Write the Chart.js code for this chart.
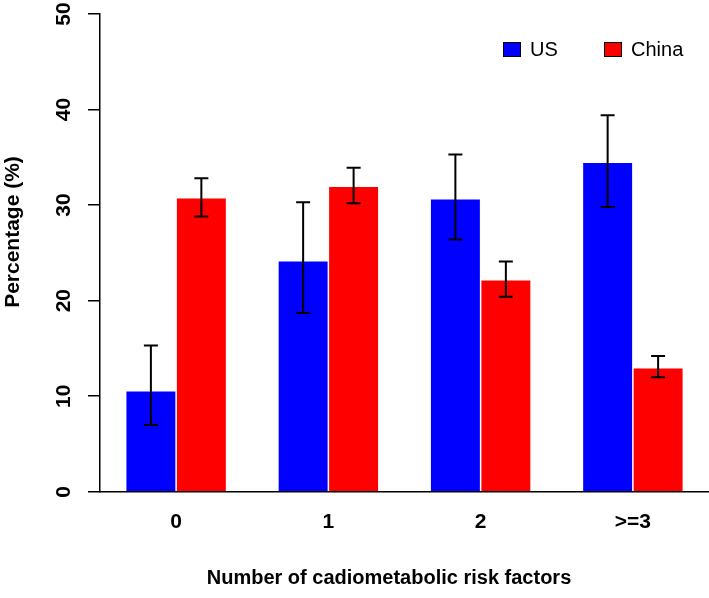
<!DOCTYPE html>
<html>
<head>
<meta charset="utf-8">
<script src="https://cdn.jsdelivr.net/npm/chart.js@4"></script>
<style>
    body { margin: 0; background: #ffffff; }
    #wrap { width: 709px; height: 598px; }
</style>
</head>
<body>
<div id="wrap"><canvas id="myChart" width="709" height="598"></canvas></div>
<script>
// Chart data
const categories = ['0', '1', '2', '>=3'];
const usValues = [10.5, 24.1, 30.6, 34.4];
const usLower = [7.0, 18.7, 26.4, 29.8];
const usUpper = [15.3, 30.3, 35.3, 39.4];
const chinaValues = [30.7, 31.9, 22.1, 12.9];
const chinaLower = [28.8, 30.2, 20.4, 12.0];
const chinaUpper = [32.8, 33.9, 24.1, 14.2];
const yTicks = [0, 10, 20, 30, 40, 50];

const xTitle = 'Number of cadiometabolic risk factors';
const yTitle = 'Percentage (%)';

Chart.defaults.font.family = '"Liberation Sans", Arial, sans-serif';
Chart.defaults.color = '#000000';

// Draws error bars, rotated y tick labels, axis titles and the legend
const extrasPlugin = {
    id: 'extras',
    afterDatasetsDraw(chart) {
        const ctx = chart.ctx;
        const yScale = chart.scales.y;
        const bounds = [[usLower, usUpper], [chinaLower, chinaUpper]];

        ctx.save();
        ctx.strokeStyle = '#000000';
        ctx.lineWidth = 2;
        chart.data.datasets.forEach((ds, di) => {
            const meta = chart.getDatasetMeta(di);
            meta.data.forEach((bar, i) => {
                const top = yScale.getPixelForValue(bounds[di][1][i]);
                const bottom = yScale.getPixelForValue(bounds[di][0][i]);
                ctx.beginPath();
                ctx.moveTo(bar.x, top);
                ctx.lineTo(bar.x, bottom);
                ctx.moveTo(bar.x - 7, top);
                ctx.lineTo(bar.x + 7, top);
                ctx.moveTo(bar.x - 7, bottom);
                ctx.lineTo(bar.x + 7, bottom);
                ctx.stroke();
            });
        });
        ctx.restore();
    },
    afterDraw(chart) {
        const ctx = chart.ctx;
        const yScale = chart.scales.y;

        ctx.save();
        ctx.fillStyle = '#000000';

        // y tick labels, rotated like base R
        ctx.font = 'bold 21px "Liberation Sans", Arial, sans-serif';
        ctx.textAlign = 'center';
        ctx.textBaseline = 'middle';
        yTicks.forEach((v) => {
            const y = yScale.getPixelForValue(v);
            ctx.save();
            ctx.translate(64, y);
            ctx.rotate(-Math.PI / 2);
            ctx.fillText(String(v), 0, 0);
            ctx.restore();
        });

        // y title
        ctx.save();
        ctx.translate(13, 232);
        ctx.rotate(-Math.PI / 2);
        ctx.font = 'bold 21px "Liberation Sans", Arial, sans-serif';
        ctx.fillText(yTitle, 0, 0);
        ctx.restore();

        // x title
        ctx.font = 'bold 20px "Liberation Sans", Arial, sans-serif';
        ctx.fillText(xTitle, 389, 578);

        // legend
        ctx.font = '20px "Liberation Sans", Arial, sans-serif';
        ctx.textAlign = 'left';
        const legendX = [503, 604];
        chart.data.datasets.forEach((ds, di) => {
            const x = legendX[di];
            ctx.fillStyle = ds.backgroundColor;
            ctx.fillRect(x, 42, 17, 14);
            ctx.strokeStyle = '#000000';
            ctx.lineWidth = 1;
            ctx.strokeRect(x + 0.5, 42.5, 17, 14);
            ctx.fillStyle = '#000000';
            ctx.fillText(ds.label, x + 27, 50);
        });
        ctx.restore();
    }
};

const ctx = document.getElementById('myChart').getContext('2d');
const myChart = new Chart(ctx, {
    type: 'bar',
    data: {
        labels: categories,
        datasets: [{
            label: 'US',
            data: usValues,
            backgroundColor: '#0000ff',
            borderWidth: 0
        }, {
            label: 'China',
            data: chinaValues,
            backgroundColor: '#ff0000',
            borderWidth: 0
        }]
    },
    options: {
        responsive: false,
        animation: false,
        devicePixelRatio: 1,
        categoryPercentage: 0.663,
        barPercentage: 0.97,
        layout: {
            padding: { left: 88, top: 14, right: 0, bottom: 45 }
        },
        scales: {
            x: {
                grid: { display: false, drawTicks: false },
                border: { display: true, color: '#000000', width: 1.5 },
                ticks: {
                    font: { size: 21, weight: 'bold' },
                    padding: 18,
                    maxRotation: 0
                }
            },
            y: {
                min: 0,
                max: 50,
                ticks: { display: false, stepSize: 10 },
                grid: {
                    display: true,
                    drawOnChartArea: false,
                    drawTicks: true,
                    tickLength: 12,
                    color: '#000000',
                    lineWidth: 1.5
                },
                border: { display: true, color: '#000000', width: 1.5 }
            }
        },
        plugins: {
            legend: { display: false },
            tooltip: { enabled: false }
        }
    },
    plugins: [extrasPlugin]
});
</script>
</body>
</html>
